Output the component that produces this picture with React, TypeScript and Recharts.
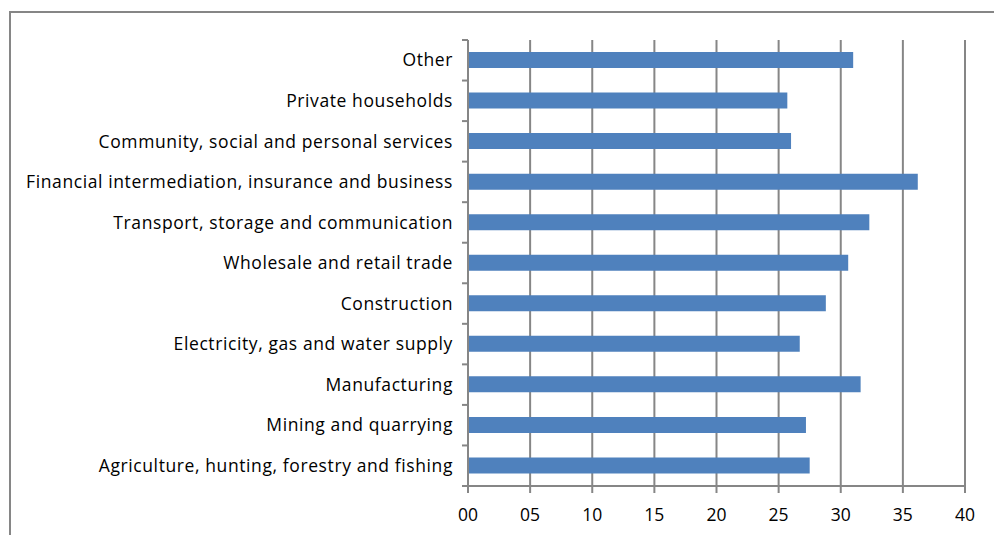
import React from 'react';
import { BarChart, Bar, XAxis, YAxis, CartesianGrid } from 'recharts';

// top to bottom, as shown in the chart
const sectors = [
  'Other',
  'Private households',
  'Community, social and personal services',
  'Financial intermediation, insurance and business',
  'Transport, storage and communication',
  'Wholesale and retail trade',
  'Construction',
  'Electricity, gas and water supply',
  'Manufacturing',
  'Mining and quarrying',
  'Agriculture, hunting, forestry and fishing',
];
const values = [31.0, 25.7, 26.0, 36.2, 32.3, 30.6, 28.8, 26.7, 31.6, 27.2, 27.5];
const xTicks = [0, 5, 10, 15, 20, 25, 30, 35, 40];

const data = sectors.map((name, i) => ({ name, value: values[i] }));

const GRAY = '#868686';
const FONT = '"Open Sans", Lato, sans-serif';

const SectorTick = (props: any) => {
  const { x, y, payload, index } = props;
  const half = payload && payload.offset ? payload.offset : 20.25;
  const ax = x + 15;
  return (
    <g>
      <line x1={ax - 6} x2={ax} y1={y - half} y2={y - half} stroke={GRAY} strokeWidth={2} />
      {index === sectors.length - 1 && (
        <line x1={ax - 6} x2={ax} y1={y + half} y2={y + half} stroke={GRAY} strokeWidth={2} />
      )}
      <text
        x={x}
        y={y}
        dy="0.355em"
        textAnchor="end"
        fill="#000"
        fontSize={17.5}
        letterSpacing={0.6}
        fontFamily={FONT}
      >
        {payload.value}
      </text>
    </g>
  );
};

export default function App() {
  return (
    <div style={{ position: 'fixed', left: 0, top: 0, width: 994, height: 535, background: '#fff', overflow: 'hidden' }}>
      <div
        style={{
          position: 'absolute',
          left: 9,
          top: 11,
          width: 1000,
          height: 540,
          borderLeft: `2px solid ${GRAY}`,
          borderTop: `2px solid ${GRAY}`,
        }}
      />
      <div style={{ position: 'absolute', left: 0, top: 0 }}>
        <BarChart
          width={994}
          height={535}
          data={data}
          layout="vertical"
          barSize={16}
          margin={{ top: 40, right: 29, bottom: 0, left: 0 }}
        >
          <CartesianGrid horizontal={false} stroke={GRAY} strokeWidth={2} />
          <XAxis
            type="number"
            domain={[0, 40]}
            ticks={xTicks}
            interval={0}
            height={49}
            tickSize={7}
            tickMargin={16}
            tickFormatter={(v: number) => String(v).padStart(2, '0')}
            axisLine={{ stroke: GRAY, strokeWidth: 2 }}
            tickLine={{ stroke: GRAY, strokeWidth: 2 }}
            tick={{ fill: '#000', fontSize: 17.5, fontFamily: FONT }}
          />
          <YAxis
            type="category"
            dataKey="name"
            width={468}
            interval={0}
            tickSize={6}
            tickMargin={9}
            tickLine={false}
            axisLine={{ stroke: GRAY, strokeWidth: 2 }}
            tick={<SectorTick />}
          />
          <Bar dataKey="value" fill="#4F81BD" isAnimationActive={false} />
        </BarChart>
      </div>
    </div>
  );
}
